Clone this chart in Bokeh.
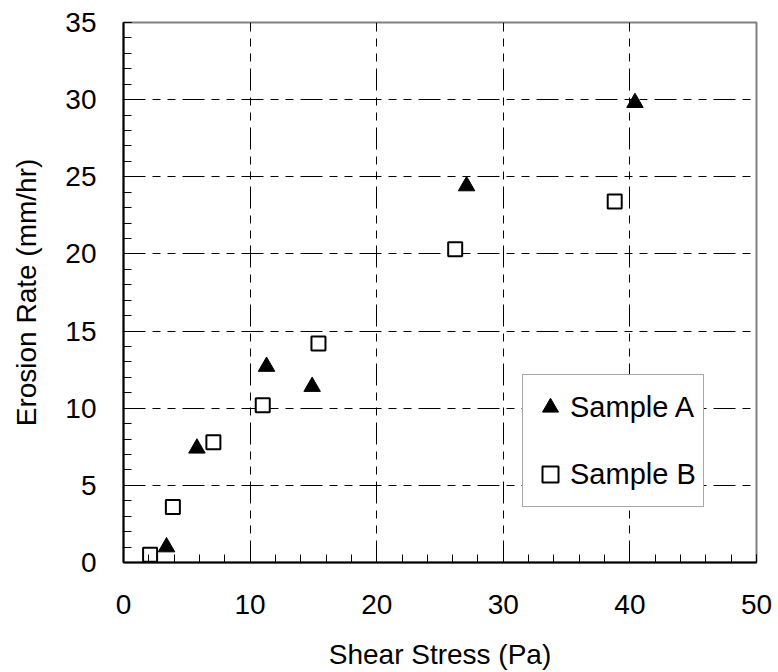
from bokeh.plotting import figure
from bokeh.models import (Range1d, SingleIntervalTicker, FixedTicker, Legend, LegendItem)
from bokeh.embed import file_html
from bokeh.resources import INLINE

# ---- data ----
sample_a_x = [3.4, 5.8, 11.3, 14.9, 27.1, 40.4]
sample_a_y = [1.0, 7.4, 12.7, 11.4, 24.4, 29.8]
sample_b_x = [2.1, 3.9, 7.1, 11.0, 15.4, 26.2, 38.8]
sample_b_y = [0.5, 3.6, 7.8, 10.2, 14.2, 20.3, 23.4]

x_ticks = [0, 10, 20, 30, 40, 50]
y_ticks = [0, 5, 10, 15, 20, 25, 30, 35]

x_title = "Shear Stress (Pa)"
y_title = "Erosion Rate (mm/hr)"
name_a = "Sample A"
name_b = "Sample B"

FONT = "Liberation Sans"
FS = "28px"

p = figure(width=778, height=672, output_backend="svg", toolbar_location=None,
           x_range=Range1d(x_ticks[0], x_ticks[-1]),
           y_range=Range1d(y_ticks[0], y_ticks[-1]),
           min_border_left=123, min_border_right=22, min_border_top=22,
           min_border_bottom=110)
p.background_fill_color = "white"
p.border_fill_color = "white"
p.outline_line_color = "#808080"
p.outline_line_width = 2

p.xaxis.ticker = SingleIntervalTicker(interval=10, num_minor_ticks=5)
p.yaxis.ticker = SingleIntervalTicker(interval=5, num_minor_ticks=5)

for ax in (p.xaxis[0], p.yaxis[0]):
    ax.axis_line_color = "black"
    ax.axis_line_width = 2
    ax.major_tick_in = 8
    ax.major_tick_out = 0
    ax.minor_tick_in = 8
    ax.minor_tick_out = 0
    ax.major_tick_line_color = "black"
    ax.minor_tick_line_color = "black"
    ax.major_tick_line_width = 1
    ax.minor_tick_line_width = 1
    ax.major_label_text_font = FONT
    ax.major_label_text_font_size = FS
    ax.major_label_text_color = "black"
    ax.axis_label_text_font = FONT
    ax.axis_label_text_font_size = FS
    ax.axis_label_text_font_style = "normal"
    ax.axis_label_text_color = "black"

p.xaxis.axis_label = x_title
p.yaxis.axis_label = y_title
p.xaxis.major_label_standoff = 32
p.yaxis.major_label_standoff = 27
p.xaxis.axis_label_standoff = 22
p.yaxis.axis_label_standoff = 20

p.xgrid.ticker = FixedTicker(ticks=x_ticks[1:-1])
p.ygrid.ticker = FixedTicker(ticks=y_ticks[1:-1])
for g in (p.xgrid[0], p.ygrid[0]):
    g.grid_line_color = "black"
    g.grid_line_width = 1
    g.grid_line_dash = "22 7 8 7 8 7"

ra = p.scatter(sample_a_x, sample_a_y, marker="triangle", size=16.5,
               fill_color="black", line_color="black", line_width=1)
rb = p.scatter(sample_b_x, sample_b_y, marker="square", size=14,
               fill_color="white", line_color="black", line_width=2)

legend = Legend(items=[LegendItem(label=name_a, renderers=[ra]),
                       LegendItem(label=name_b, renderers=[rb])],
                location=(399, 55))
legend.label_text_font = FONT
legend.label_text_font_size = "29px"
legend.label_text_color = "black"
legend.glyph_width = 40
legend.glyph_height = 50
legend.label_height = 50
legend.label_standoff = -4
legend.spacing = 17
legend.padding = 7
legend.margin = 0
legend.border_line_color = "#505050"
legend.border_line_width = 1.5
legend.background_fill_color = "white"
legend.background_fill_alpha = 1
p.add_layout(legend, "center")

open("out.html", "w").write(file_html(p, INLINE))
